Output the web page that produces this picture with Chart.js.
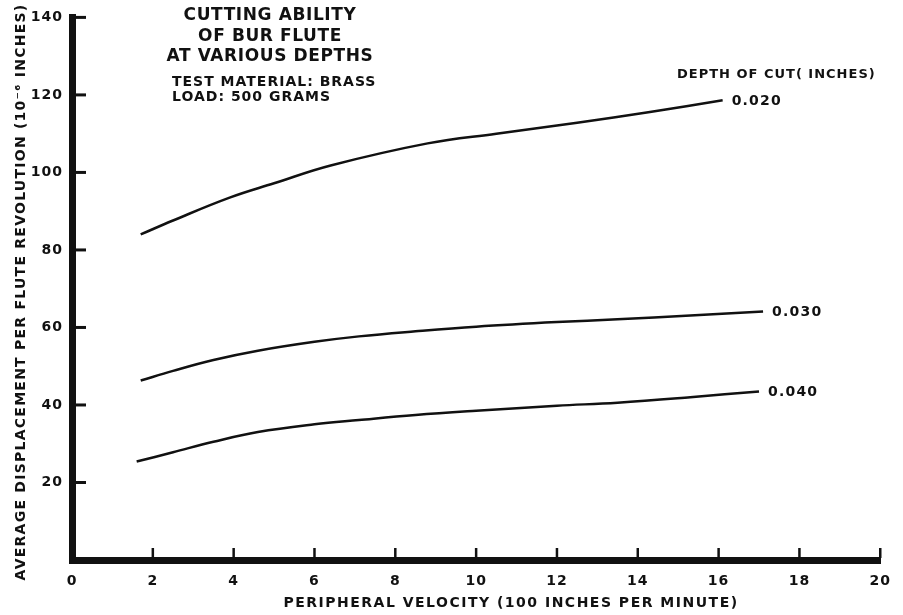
<!DOCTYPE html>
<html lang="en">
<head>
  <meta charset="UTF-8">
  <title>Cutting Ability of Bur Flute at Various Depths</title>
  <script src="https://cdn.jsdelivr.net/npm/chart.js"></script>
  <style>
    body {
      margin: 0;
      background: #fff;
    }
    canvas {
      display: block;
    }
  </style>
</head>
<body>
  <canvas id="chart" width="903" height="615"></canvas>

  <script>
    // depth of cut 0.020 in
    const velocity020 = [1.7, 2.5, 3.9, 5, 6.4, 8.8, 10.5, 12.5, 14.3, 16.1];
    const disp020 = [84, 87.6, 93.5, 97.2, 101.8, 107.5, 110, 112.8, 115.6, 118.6];
    // depth of cut 0.030 in
    const velocity030 = [1.7, 2.5, 3.5, 4.6, 6, 7.1, 8.5, 10, 12, 13.5, 15.3, 17.1];
    const disp030 = [46.3, 48.8, 51.6, 54, 56.3, 57.7, 59, 60.2, 61.4, 62.1, 63.1, 64.1];
    // depth of cut 0.040 in
    const velocity040 = [1.6, 2.5, 3.5, 4.6, 6, 7.1, 8.5, 10, 12, 13.5, 15.3, 17];
    const disp040 = [25.4, 27.8, 30.5, 33, 35, 36.1, 37.4, 38.5, 39.8, 40.6, 42, 43.5];

    const depthLabels = ['0.020', '0.030', '0.040'];
    const xTitle = 'PERIPHERAL VELOCITY (100 INCHES PER MINUTE)';
    const yTitle = 'AVERAGE DISPLACEMENT PER FLUTE REVOLUTION (10\u207B\u2076 INCHES)';
    const titleLines = ['CUTTING ABILITY', 'OF BUR FLUTE', 'AT VARIOUS DEPTHS'];
    const noteLines = ['TEST MATERIAL: BRASS', 'LOAD: 500 GRAMS'];
    const legendTitle = 'DEPTH OF CUT( INCHES)';

    const FONT = '"DejaVu Sans", sans-serif';

    function toPoints(xs, ys) {
      return xs.map((x, i) => ({ x: x, y: ys[i] }));
    }

    function text(ctx, str, x, y, size, spacing, align) {
      ctx.save();
      ctx.font = 'bold ' + size + 'px ' + FONT;
      ctx.letterSpacing = spacing + 'px';
      ctx.fillStyle = '#111';
      ctx.textAlign = align || 'left';
      ctx.textBaseline = 'middle';
      ctx.fillText(str, x, y);
      ctx.restore();
    }

    // spaced lettering for the tick labels
    const spacingPlugin = {
      id: 'spacing',
      beforeDraw(chart) {
        chart.ctx.letterSpacing = '1px';
      }
    };

    // short ticks pointing into the plot, plus all the lettering
    const annotatePlugin = {
      id: 'annotate',
      afterDraw(chart) {
        const ctx = chart.ctx;
        const area = chart.chartArea;
        const xs = chart.scales.x;
        const ys = chart.scales.y;

        ctx.save();
        ctx.strokeStyle = '#111';
        ctx.lineWidth = 3;
        ys.ticks.forEach(t => {
          if (t.value <= 0) return;
          const py = ys.getPixelForValue(t.value);
          ctx.beginPath();
          ctx.moveTo(area.left, py);
          ctx.lineTo(area.left + 14, py);
          ctx.stroke();
        });
        ctx.lineWidth = 2.5;
        xs.ticks.forEach(t => {
          if (t.value <= 0) return;
          const px = xs.getPixelForValue(t.value);
          ctx.beginPath();
          ctx.moveTo(px, area.bottom - 2);
          ctx.lineTo(px, area.bottom - 12);
          ctx.stroke();
        });
        ctx.restore();

        // curve labels at the end of each line
        chart.data.datasets.forEach((ds, i) => {
          const pts = chart.getDatasetMeta(i).data;
          const last = pts[pts.length - 1];
          text(ctx, depthLabels[i], last.x + 9, last.y + 1, 14, 1.2);
        });

        text(ctx, legendTitle, 677, 75, 13, 1);

        titleLines.forEach((line, i) => {
          text(ctx, line, 270, 16 + i * 20.5, 17, 0.6, 'center');
        });
        noteLines.forEach((line, i) => {
          text(ctx, line, 172, 82 + i * 15, 14, 1);
        });

        text(ctx, xTitle, 511, 603, 14, 1.5, 'center');

        ctx.save();
        ctx.translate(21, 292);
        ctx.rotate(-Math.PI / 2);
        text(ctx, yTitle, 0, 0, 14, 1.25, 'center');
        ctx.restore();
      }
    };

    const lineStyle = {
      borderColor: '#111',
      borderWidth: 2.5,
      pointRadius: 0,
      fill: false,
      tension: 0.4
    };

    new Chart(document.getElementById('chart').getContext('2d'), {
      type: 'line',
      data: {
        datasets: [
          Object.assign({ label: depthLabels[0], data: toPoints(velocity020, disp020) }, lineStyle),
          Object.assign({ label: depthLabels[1], data: toPoints(velocity030, disp030) }, lineStyle),
          Object.assign({ label: depthLabels[2], data: toPoints(velocity040, disp040) }, lineStyle)
        ]
      },
      options: {
        responsive: false,
        animation: false,
        layout: {
          padding: { top: 14, right: 21, left: 0, bottom: 0 }
        },
        plugins: {
          legend: { display: false },
          tooltip: { enabled: false }
        },
        scales: {
          x: {
            type: 'linear',
            min: 0,
            max: 20,
            afterFit: scale => { scale.height = 55; },
            grid: { display: true, drawOnChartArea: false, drawTicks: false },
            border: { display: true, width: 7, color: '#111' },
            ticks: {
              stepSize: 2,
              padding: 13,
              color: '#111',
              font: { family: FONT, size: 14, weight: 'bold' }
            }
          },
          y: {
            min: 0,
            max: 140,
            afterFit: scale => { scale.width = 72; },
            grid: { display: true, drawOnChartArea: false, drawTicks: false },
            border: { display: true, width: 7, color: '#111' },
            ticks: {
              stepSize: 20,
              padding: 9,
              color: '#111',
              font: { family: FONT, size: 14, weight: 'bold' },
              callback: value => value === 0 ? '' : value
            }
          }
        }
      },
      plugins: [spacingPlugin, annotatePlugin]
    });
  </script>
</body>
</html>
